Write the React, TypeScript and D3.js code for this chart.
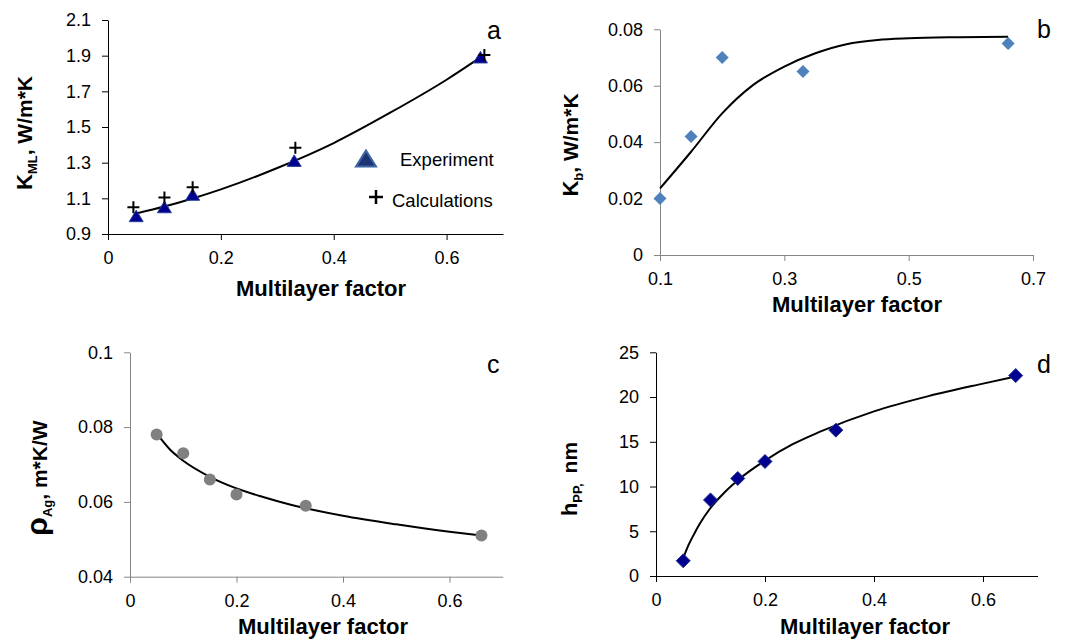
import { useEffect, useRef } from "react";
import * as d3 from "d3";

// panel a: thermal conductivity of the multilayer
const expFactorA = [0.05, 0.1, 0.15, 0.33, 0.66];
const kmlExperiment = [1.0, 1.05, 1.12, 1.31, 1.89];
const calcFactorA = [0.045, 0.1, 0.15, 0.332, 0.667];
const kmlCalculations = [1.05, 1.104, 1.162, 1.384, 1.904];
const fitFactorA = [0.05, 0.1, 0.15, 0.2, 0.3, 0.4, 0.5, 0.6, 0.66];
const fitKml = [1.015, 1.054, 1.099, 1.15, 1.27, 1.41, 1.58, 1.765, 1.89];

// panel b: boundary conductivity
const factorB = [0.1, 0.15, 0.2, 0.33, 0.66];
const kbValues = [0.02, 0.042, 0.07, 0.065, 0.075];
const fitFactorB = [0.1, 0.15, 0.2, 0.25, 0.3, 0.35, 0.4, 0.45, 0.5, 0.58, 0.66];
const fitKb = [0.0236, 0.0366, 0.0502, 0.0603, 0.0668, 0.0715, 0.0747, 0.0762, 0.0768, 0.0772, 0.0774];

// panel c: resistivity of Ag
const factorC = [0.05, 0.1, 0.15, 0.2, 0.33, 0.66];
const rhoValues = [0.078, 0.073, 0.066, 0.062, 0.059, 0.051];
const fitFactorC = [0.05, 0.075, 0.1, 0.15, 0.2, 0.25, 0.3, 0.4, 0.5, 0.6, 0.66];
const fitRho = [0.0783, 0.074, 0.071, 0.0667, 0.0636, 0.0613, 0.0593, 0.0563, 0.054, 0.052, 0.051];

// panel d: PP layer thickness
const factorD = [0.05, 0.1, 0.15, 0.2, 0.33, 0.66];
const hppValues = [1.7, 8.5, 10.9, 12.8, 16.3, 22.4];
const fitFactorD = [0.05, 0.06, 0.07, 0.08, 0.1, 0.125, 0.15, 0.2, 0.25, 0.3, 0.4, 0.5, 0.6, 0.66];
const fitHpp = [2.0, 3.5, 4.7, 5.8, 7.6, 9.3, 10.7, 12.9, 14.7, 16.1, 18.4, 20.1, 21.5, 22.3];

const xTicks06 = [0, 0.2, 0.4, 0.6];
const xTicksB = [0.1, 0.3, 0.5, 0.7];
const yTicksA = [0.9, 1.1, 1.3, 1.5, 1.7, 1.9, 2.1];
const yTicksB = [0, 0.02, 0.04, 0.06, 0.08];
const yTicksC = [0.04, 0.06, 0.08, 0.1];
const yTicksD = [0, 5, 10, 15, 20, 25];

const FONT = "'Liberation Sans', Arial, sans-serif";
const GRAY = "#868686";

const zip = (xs, ys) => xs.map((x, i) => [x, ys[i]]);

const App = () => {
  const svgRef = useRef(null);

  useEffect(() => {
    const svg = d3.select(svgRef.current);
    svg.selectAll("*").remove();

    const drawPanel = (p) => {
      const x = d3.scaleLinear().domain(p.xDomain).range(p.xRange);
      const y = d3.scaleLinear().domain(p.yDomain).range(p.yRange);
      const g = svg.append("g");

      // axes
      const xAxis = g
        .append("g")
        .attr("transform", `translate(0,${p.yRange[0]})`)
        .call(
          d3.axisBottom(x).tickValues(p.xTicks).tickSizeInner(6).tickSizeOuter(0).tickPadding(8)
            .tickFormat((d) => (d === 0 ? "0" : String(d)))
        );
      const yAxis = g
        .append("g")
        .attr("transform", `translate(${p.xRange[0]},0)`)
        .call(
          d3.axisLeft(y).tickValues(p.yTicks).tickSizeInner(6).tickSizeOuter(0).tickPadding(11)
            .tickFormat(p.yFormat)
        );
      [xAxis, yAxis].forEach((a) => {
        a.selectAll("path, line").attr("stroke", p.axisColor).attr("stroke-width", 1);
        a.selectAll("text")
          .attr("font-family", FONT)
          .attr("font-size", 18)
          .attr("fill", "#000");
      });
      xAxis.selectAll("text").attr("dy", "0.88em");

      // fitted curve
      g.append("path")
        .datum(zip(p.fitX, p.fitY))
        .attr("fill", "none")
        .attr("stroke", "#000")
        .attr("stroke-width", 2)
        .attr(
          "d",
          d3.line().x((d) => x(d[0])).y((d) => y(d[1])).curve(d3.curveMonotoneX)
        );

      // markers
      p.series.forEach((s) => {
        const pts = zip(s.x, s.y);
        if (s.shape === "circle") {
          g.selectAll(null).data(pts).enter().append("circle")
            .attr("cx", (d) => x(d[0])).attr("cy", (d) => y(d[1]))
            .attr("r", 6).attr("fill", s.fill);
        } else {
          g.selectAll(null).data(pts).enter().append("path")
            .attr("transform", (d) => `translate(${x(d[0])},${y(d[1])})`)
            .attr("d", s.path)
            .attr("fill", s.fill)
            .attr("stroke", s.stroke)
            .attr("stroke-width", s.strokeWidth || 1);
        }
      });

      // x title
      g.append("text")
        .attr("x", p.xTitle[0]).attr("y", p.xTitle[1])
        .attr("text-anchor", "middle")
        .attr("font-family", FONT).attr("font-size", 22).attr("font-weight", "bold")
        .text("Multilayer factor");

      // y title
      const yt = g.append("text")
        .attr("transform", `translate(${p.yTitle[0]},${p.yTitle[1]}) rotate(-90)`)
        .attr("text-anchor", "middle")
        .attr("font-family", FONT).attr("font-size", 21).attr("font-weight", "bold");
      yt.append("tspan").attr("font-size", p.mainSize || 22).text(p.yMain);
      yt.append("tspan").attr("font-size", 13).attr("dy", 5).text(p.ySub);
      yt.append("tspan").attr("dy", -5).attr("dx", p.yRestDx || 0).text(p.yRest);

      // panel letter
      g.append("text")
        .attr("x", p.letterPos[0]).attr("y", p.letterPos[1])
        .attr("font-family", FONT).attr("font-size", 25)
        .text(p.letter);

      return g;
    };

    const triangle = "M0,-6L7,5.5L-7,5.5Z";
    const plus = "M-6,0H6M0,-6V6";
    const diamond = (r) => `M0,${-r}L${r},0L0,${r}L${-r},0Z`;

    const gA = drawPanel({
      xDomain: [0, 0.7], xRange: [108, 503],
      yDomain: [0.9, 2.1], yRange: [234, 20],
      xTicks: xTicks06, yTicks: yTicksA, yFormat: d3.format(".1f"),
      axisColor: "#000",
      fitX: fitFactorA, fitY: fitKml,
      series: [
        { x: expFactorA, y: kmlExperiment, path: triangle, fill: "#000090", stroke: "#2a3f96" },
        { x: calcFactorA, y: kmlCalculations, path: plus, fill: "none", stroke: "#000", strokeWidth: 2 },
      ],
      xTitle: [321, 296], yTitle: [32, 133],
      yMain: "K", ySub: "ML", yRest: ", W/m*K",
      letter: "a", letterPos: [487, 39],
    });

    // legend of panel a
    gA.append("path")
      .attr("transform", "translate(366,159)")
      .attr("d", "M0,-8.5L10,7.5L-10,7.5Z")
      .attr("fill", "#1c3470").attr("stroke", "#3d66a8").attr("stroke-width", 2);
    gA.append("text").attr("x", 400).attr("y", 166)
      .attr("font-family", FONT).attr("font-size", 18.5).text("Experiment");
    gA.append("path")
      .attr("transform", "translate(376,197)")
      .attr("d", "M-7,0H7M0,-7V7")
      .attr("stroke", "#000").attr("stroke-width", 2.5);
    gA.append("text").attr("x", 392).attr("y", 207)
      .attr("font-family", FONT).attr("font-size", 18.5).text("Calculations");

    drawPanel({
      xDomain: [0.1, 0.7], xRange: [660, 1033],
      yDomain: [0, 0.08], yRange: [255, 29.3],
      xTicks: xTicksB, yTicks: yTicksB, yFormat: (d) => (d === 0 ? "0" : d3.format(".2f")(d)),
      axisColor: GRAY,
      fitX: fitFactorB, fitY: fitKb,
      series: [{ x: factorB, y: kbValues, path: diamond(6.5), fill: "#4f81bd", stroke: "none" }],
      xTitle: [857, 312], yTitle: [578, 145],
      yMain: "K", ySub: "b", yRest: ", W/m*K",
      letter: "b", letterPos: [1037, 38],
    });

    drawPanel({
      xDomain: [0, 0.7], xRange: [130, 502.75],
      yDomain: [0.04, 0.1], yRange: [576.7, 352.3],
      xTicks: xTicks06, yTicks: yTicksC, yFormat: (d) => (d === 0.1 ? "0.1" : d3.format(".2f")(d)),
      axisColor: GRAY,
      fitX: fitFactorC, fitY: fitRho,
      series: [{ x: factorC, y: rhoValues, shape: "circle", fill: "#808080" }],
      xTitle: [323, 634], yTitle: [47, 478],
      yMain: "ρ", mainSize: 30, ySub: "Ag", yRest: ", m*K/W",
      letter: "c", letterPos: [487, 373],
    });

    drawPanel({
      xDomain: [0, 0.7], xRange: [656, 1037.5],
      yDomain: [0, 25], yRange: [576, 352.3],
      xTicks: xTicks06, yTicks: yTicksD, yFormat: d3.format("d"),
      axisColor: "#000",
      fitX: fitFactorD, fitY: fitHpp,
      series: [{ x: factorD, y: hppValues, path: diamond(7), fill: "#000090", stroke: "#23308a" }],
      xTitle: [865, 634], yTitle: [577, 479],
      yMain: "h", ySub: "PP,", yRest: "nm", yRestDx: 10,
      letter: "d", letterPos: [1037, 373],
    });
  }, []);

  return (
    <svg
      ref={svgRef}
      width={1067}
      height={640}
      style={{ position: "absolute", left: 0, top: 0, background: "#fff" }}
    ></svg>
  );
};

export default App;
